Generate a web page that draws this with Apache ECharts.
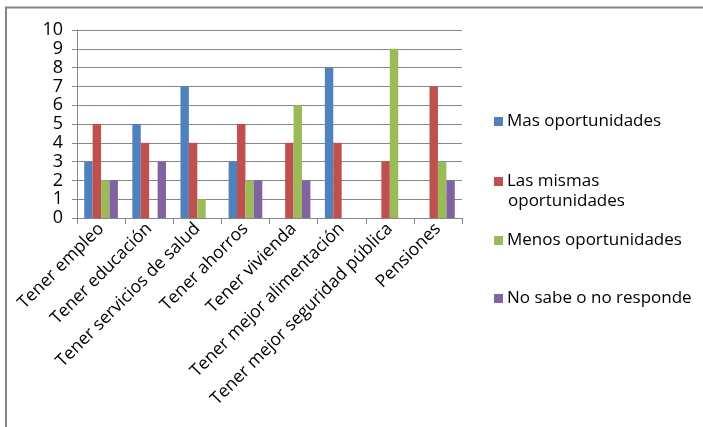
<!DOCTYPE html>
<html>
<head>
<meta charset="utf-8">
<script src="https://cdn.jsdelivr.net/npm/echarts@6/dist/echarts.min.js"></script>
<style>
html,body{margin:0;padding:0;background:#fff;}
#chart{width:703px;height:427px;}
</style>
</head>
<body>
<div id="chart"></div>
<script>
var categories = ['Tener empleo', 'Tener educación', 'Tener servicios de salud', 'Tener ahorros',
    'Tener vivienda', 'Tener mejor alimentación', 'Tener mejor seguridad pública', 'Pensiones'];
var seriesNames = ['Mas oportunidades', 'Las mismas oportunidades', 'Menos oportunidades', 'No sabe o no responde'];
var masOport = [3, 5, 7, 3, null, 8, null, null];
var mismasOport = [5, 4, 4, 5, 4, 4, 3, 7];
var menosOport = [2, null, 1, 2, 6, null, 9, 3];
var noSabe = [2, 3, null, 2, 2, null, null, 2];
var colors = ['#4F81BD', '#C0504D', '#9BBB59', '#8064A2'];

var font = '"Open Sans", "Liberation Sans", sans-serif';
var allData = [masOport, mismasOport, menosOport, noSabe];
var legendTops = [108, 168, 227, 285];

var series = [];
var legends = [];
for (var i = 0; i < seriesNames.length; i++) {
    series.push({
        name: seriesNames[i],
        type: 'bar',
        data: allData[i],
        barGap: '0%',
        barCategoryGap: '30%',
        itemStyle: {color: colors[i]}
    });
    legends.push({
        data: [seriesNames[i]],
        left: 489,
        top: legendTops[i],
        orient: 'vertical',
        icon: 'rect',
        itemWidth: 9,
        itemHeight: 9,
        selectedMode: false,
        formatter: function (n) { return n == 'Las mismas oportunidades' ? 'Las mismas' : n; },
        textStyle: {fontFamily: font, fontSize: 17, color: '#000', padding: [0, 0, 0, -1]}
    });
}

var option = {
    animation: false,
    backgroundColor: '#fff',
    color: colors,
    grid: {left: 77, top: 30, width: 385, height: 188, containLabel: false},
    legend: legends,
    xAxis: {
        type: 'category',
        data: categories,
        axisLine: {lineStyle: {color: '#868686'}},
        axisTick: {show: true, length: 6, lineStyle: {color: '#868686'}},
        axisLabel: {rotate: 45, interval: 0, margin: 8, fontFamily: font, fontSize: 17.5, color: '#000'}
    },
    yAxis: {
        type: 'value',
        min: 0,
        max: 10,
        interval: 1,
        axisLine: {show: true, lineStyle: {color: '#868686'}},
        axisTick: {show: true, length: 5, lineStyle: {color: '#868686'}},
        splitLine: {lineStyle: {color: '#868686'}},
        axisLabel: {margin: 14, fontFamily: font, fontSize: 18, color: '#000',
            showMinLabel: true, showMaxLabel: true, hideOverlap: false,
            textMargin: 0, minMargin: 0}
    },
    graphic: [
        {type: 'rect', shape: {x: 6, y: 7.5, width: 720, height: 440},
            style: {fill: null, stroke: '#868686', lineWidth: 2}, silent: true},
        {type: 'text', left: 508, top: 193,
            style: {text: 'oportunidades', font: '17px ' + font, fill: '#000'}}
    ],
    series: series
};

var myCharts = echarts.init(document.getElementById('chart'));
myCharts.setOption(option);
</script>
</body>
</html>
